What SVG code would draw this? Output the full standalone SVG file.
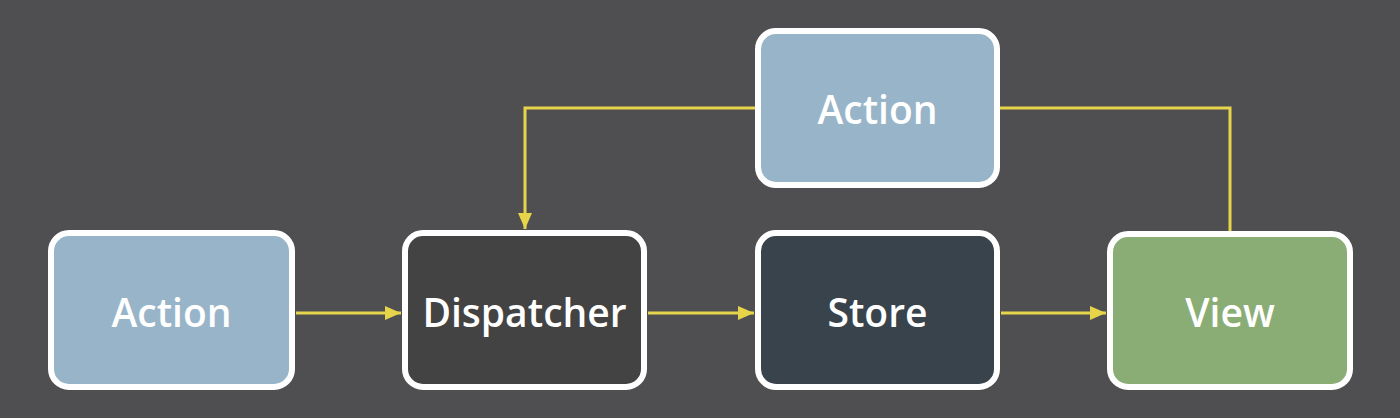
<svg xmlns="http://www.w3.org/2000/svg" width="1400" height="418" viewBox="0 0 1400 418">
<style>
.box{stroke:#ffffff;stroke-width:6}
.lbl{font-family:"Open Sans","Liberation Sans",sans-serif;font-weight:600;font-size:39px;fill:#ffffff;text-anchor:middle}
.con{fill:none;stroke:#e6d54a;stroke-width:3}
</style>
<defs>
<marker id="arr" viewBox="0 0 16 14" refX="16" refY="7" markerWidth="16" markerHeight="14" markerUnits="userSpaceOnUse" orient="auto">
<path d="M0,0 L16,7 L0,14 Z" fill="#e6d54a"/>
</marker>
</defs>
<rect width="1400" height="418" fill="#4f4f51"/>
<g id="connectors">
<line class="con" x1="296" y1="313" x2="401" y2="313" marker-end="url(#arr)"/>
<line class="con" x1="648" y1="313" x2="754" y2="313" marker-end="url(#arr)"/>
<line class="con" x1="1001" y1="313" x2="1106" y2="313" marker-end="url(#arr)"/>
<polyline class="con" points="755,108 525,108 525,229" marker-end="url(#arr)"/>
<polyline class="con" points="1000,108 1230,108 1230,231"/>
</g>
<g id="action-left">
<rect class="box" x="51" y="233" width="241" height="154" rx="18" fill="#98b4c8"/>
<text class="lbl" x="171.5" y="327">Action</text>
</g>
<g id="dispatcher">
<rect class="box" x="405" y="233" width="239" height="154" rx="18" fill="#434343"/>
<text class="lbl" x="524.5" y="327">Dispatcher</text>
</g>
<g id="store">
<rect class="box" x="758" y="233" width="239" height="154" rx="18" fill="#39434c"/>
<text class="lbl" x="877.5" y="327">Store</text>
</g>
<g id="view">
<rect class="box" x="1110" y="234" width="240" height="153" rx="18" fill="#8aad75"/>
<text class="lbl" x="1230" y="327">View</text>
</g>
<g id="action-top">
<rect class="box" x="758" y="31" width="239" height="154" rx="18" fill="#98b4c8"/>
<text class="lbl" x="877.5" y="124">Action</text>
</g>
</svg>
